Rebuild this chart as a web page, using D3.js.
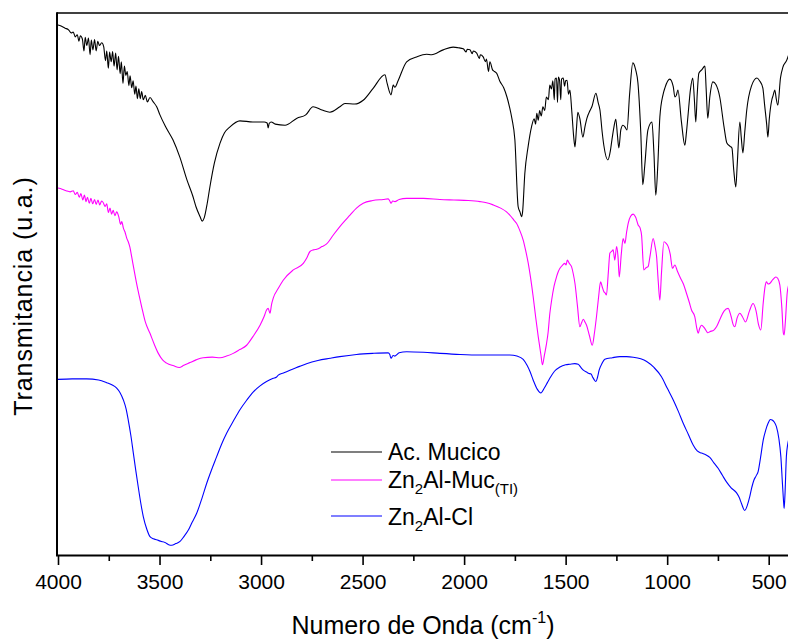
<!DOCTYPE html>
<html>
<head>
<meta charset="utf-8">
<script src="https://cdn.jsdelivr.net/npm/d3@7/dist/d3.min.js"></script>
<style>
  html, body { margin: 0; padding: 0; background: #fff; }
  svg { display: block; }
  svg text { font-family: Arial, "Liberation Sans", Helvetica, sans-serif; }
</style>
</head>
<body>
<svg id="chart" width="788" height="639"></svg>
<script>
// FTIR spectra: [wavenumber (cm-1), transmittance (a.u., offset stacked)]
const acMucico = [
  [4000,97.8],[3985,97.6],[3965,97.2],[3948,96.9],[3935,96.3],[3925,96.5],[3915,95.6],[3905,96.0],
  [3897,94.8],[3890,95.8],[3880,95.2],[3872,93.0],[3866,95.5],[3858,94.0],[3850,95.4],[3842,92.3],
  [3836,95.0],[3828,93.2],[3820,95.1],[3812,93.0],[3804,94.8],[3796,94.0],[3785,94.5],[3775,93.8],
  [3766,91.2],[3760,93.0],[3752,89.8],[3746,92.8],[3738,91.0],[3731,92.9],[3724,90.2],[3716,92.6],
  [3709,89.5],[3702,92.0],[3694,88.8],[3688,91.0],[3680,87.0],[3673,90.2],[3666,88.5],[3659,89.2],
  [3651,86.6],[3645,88.4],[3637,86.2],[3630,87.5],[3622,85.0],[3616,86.5],[3609,84.2],[3602,86.0],
  [3595,84.2],[3588,85.5],[3580,84.0],[3570,84.8],[3560,83.6],[3547,84.4],[3531,83.6],[3514,82.7],
  [3498,81.2],[3470,79.0],[3434,76.6],[3400,73.4],[3365,69.2],[3335,66.1],[3320,64.2],[3300,62.4],
  [3290,61.6],[3280,62.2],[3265,64.9],[3252,67.9],[3230,72.3],[3202,76.0],[3180,77.9],[3153,79.0],
  [3104,80.1],[3040,79.9],[2985,79.9],[2970,79.7],[2965,78.8],[2960,79.6],[2950,79.9],[2930,79.5],
  [2882,79.3],[2823,80.6],[2780,81.2],[2744,82.7],[2700,82.1],[2661,81.7],[2612,82.7],[2587,83.3],
  [2538,83.2],[2497,83.9],[2448,86.1],[2390,88.6],[2379,87.0],[2360,84.9],[2349,86.7],[2341,86.3],
  [2324,87.6],[2283,91.0],[2234,91.9],[2185,92.4],[2160,92.3],[2103,93.2],[2054,93.7],[2030,93.6],
  [2004,93.4],[1990,92.8],[1985,93.3],[1971,93.2],[1960,92.5],[1955,93.0],[1938,92.6],[1925,91.6],
  [1920,92.3],[1906,91.9],[1895,91.0],[1890,91.5],[1880,89.2],[1873,91.0],[1860,89.5],[1850,89.2],
  [1840,88.9],[1824,87.4],[1805,86.2],[1789,84.5],[1776,82.6],[1765,80.6],[1750,76.6],[1734,64.3],
  [1725,63.3],[1717,62.4],[1712,63.3],[1701,70.4],[1685,75.3],[1668,79.0],[1655,80.5],[1648,79.5],
  [1642,81.5],[1635,80.2],[1628,82.0],[1620,81.0],[1612,82.7],[1603,82.0],[1595,84.5],[1585,84.0],
  [1578,86.7],[1570,86.0],[1563,87.5],[1556,84.0],[1552,87.8],[1545,88.0],[1540,83.5],[1536,88.2],
  [1530,87.6],[1524,84.0],[1520,87.8],[1512,88.0],[1505,86.5],[1500,87.5],[1493,87.6],[1486,85.0],
  [1479,85.8],[1470,82.0],[1460,77.0],[1454,75.3],[1447,78.5],[1440,81.7],[1430,80.5],[1415,77.1],
  [1405,79.0],[1395,80.6],[1380,82.0],[1371,82.7],[1351,85.2],[1340,83.5],[1331,82.1],[1320,78.0],
  [1312,75.6],[1292,72.9],[1280,74.5],[1272,76.6],[1262,79.0],[1253,80.4],[1245,77.5],[1238,75.1],
  [1228,78.5],[1218,79.3],[1208,79.0],[1198,78.4],[1185,85.0],[1169,90.8],[1155,89.5],[1144,87.1],
  [1130,78.0],[1120,68.3],[1110,72.0],[1095,78.4],[1075,79.9],[1065,74.0],[1056,66.4],[1046,72.0],
  [1036,80.8],[1020,85.0],[1011,86.2],[987,87.8],[970,86.4],[962,84.5],[955,84.8],[947,85.8],
  [930,80.0],[913,75.6],[905,78.0],[898,80.8],[885,86.0],[874,88.0],[866,84.0],[859,79.9],
  [852,85.0],[844,88.9],[830,89.5],[814,90.2],[808,86.0],[800,80.6],[790,84.5],[775,87.3],
  [760,86.8],[741,84.5],[720,79.0],[706,76.0],[690,75.4],[681,75.1],[672,71.0],[662,67.9],
  [655,72.0],[642,79.9],[635,77.0],[627,74.2],[618,78.0],[608,82.1],[585,86.5],[558,88.0],
  [545,87.5],[529,86.2],[520,83.0],[510,79.5],[504,77.1],[497,80.5],[485,83.9],[478,84.8],
  [470,85.8],[462,84.0],[455,83.0],[442,88.0],[430,90.0],[411,91.3],[400,92.5]
];

const znAlMuc = [
  [4000,67.7],[3980,67.5],[3960,67.2],[3940,67.0],[3925,67.2],[3915,66.5],[3905,66.9],[3895,66.0],
  [3887,66.7],[3878,65.5],[3870,66.4],[3862,65.2],[3855,66.0],[3846,64.9],[3838,65.8],[3829,64.8],
  [3820,65.6],[3812,64.7],[3803,65.5],[3795,64.6],[3785,65.3],[3777,65.0],[3768,64.3],[3760,64.8],
  [3752,63.2],[3744,64.0],[3736,62.9],[3728,63.6],[3720,62.6],[3711,63.3],[3700,62.3],[3692,61.0],
  [3686,61.5],[3678,60.3],[3670,59.6],[3662,58.5],[3654,57.8],[3646,56.8],[3637,55.0],[3625,52.5],
  [3613,50.1],[3600,47.8],[3588,45.8],[3570,43.0],[3547,40.9],[3525,38.8],[3506,37.2],[3485,36.0],
  [3465,35.4],[3430,34.9],[3403,34.6],[3380,35.0],[3350,35.5],[3320,36.0],[3285,36.4],[3240,36.5],
  [3202,36.4],[3170,36.7],[3137,37.2],[3105,37.9],[3071,38.7],[3040,40.3],[3005,42.4],[2985,44.0],
  [2973,45.2],[2965,45.5],[2956,44.6],[2948,46.3],[2940,47.4],[2915,49.2],[2891,50.7],[2841,52.6],
  [2792,53.8],[2775,54.8],[2759,56.0],[2742,56.3],[2726,56.4],[2700,56.9],[2677,57.4],[2645,59.0],
  [2612,60.6],[2562,62.7],[2530,64.0],[2497,64.9],[2450,65.4],[2398,65.6],[2374,65.7],[2366,65.3],
  [2360,64.9],[2352,65.3],[2341,65.2],[2320,65.6],[2283,65.8],[2200,65.8],[2119,65.6],[2050,65.5],
  [1980,65.4],[1922,65.2],[1890,65.0],[1857,64.6],[1820,64.0],[1791,63.3],[1770,62.5],[1755,61.8],
  [1742,61.2],[1725,59.8],[1709,58.1],[1697,56.2],[1684,53.8],[1672,51.0],[1660,47.7],[1648,44.0],
  [1635,40.3],[1622,37.0],[1614,35.1],[1605,36.8],[1595,38.8],[1586,41.2],[1578,44.5],[1569,47.0],
  [1557,49.6],[1545,51.3],[1536,52.3],[1528,52.9],[1515,53.5],[1504,53.8],[1498,53.5],[1492,54.4],
  [1482,53.8],[1471,53.2],[1462,51.8],[1454,50.1],[1442,46.0],[1430,42.1],[1422,42.8],[1413,43.5],
  [1405,43.0],[1397,42.4],[1383,40.5],[1369,38.7],[1358,41.0],[1348,44.0],[1338,47.5],[1328,50.4],
  [1320,49.5],[1312,48.6],[1305,48.3],[1299,48.0],[1290,52.0],[1282,55.7],[1274,56.0],[1266,56.3],
  [1258,54.4],[1249,56.9],[1242,55.0],[1236,51.3],[1226,55.5],[1217,58.4],[1208,57.5],[1200,59.5],
  [1192,61.2],[1180,62.5],[1167,62.9],[1155,62.3],[1143,60.9],[1133,60.3],[1126,59.0],[1115,52.6],
  [1104,53.0],[1094,53.2],[1085,55.0],[1069,58.4],[1060,57.0],[1052,55.0],[1044,50.5],[1036,47.0],
  [1028,52.0],[1016,57.8],[1005,57.5],[995,56.9],[985,55.5],[974,52.9],[962,53.5],[950,52.4],
  [937,51.3],[920,50.0],[905,48.3],[890,46.5],[880,45.2],[864,44.0],[855,42.0],[847,40.9],
  [840,41.8],[831,42.4],[815,41.8],[800,41.0],[790,41.2],[770,41.5],[757,42.1],[740,43.5],
  [720,45.0],[700,45.5],[685,44.0],[675,42.5],[667,42.1],[655,43.8],[642,44.6],[630,44.0],
  [614,43.0],[595,45.0],[577,46.4],[562,45.0],[550,42.5],[539,41.5],[527,46.5],[518,49.5],
  [511,50.4],[503,50.0],[495,50.1],[480,50.8],[465,51.3],[455,51.0],[445,49.8],[435,45.5],
  [428,41.0],[424,40.6],[418,43.0],[409,48.3],[400,50.0]
];

const znAlCl = [
  [4000,32.4],[3930,32.5],[3859,32.5],[3800,32.3],[3760,31.8],[3735,31.4],[3711,30.8],[3695,30.0],
  [3678,28.6],[3665,27.0],[3654,24.9],[3641,22.0],[3629,18.8],[3617,15.6],[3605,12.6],[3592,9.5],
  [3580,7.1],[3563,4.8],[3547,3.4],[3530,3.0],[3514,2.8],[3490,2.5],[3473,2.3],[3455,1.9],
  [3440,1.8],[3420,2.1],[3399,2.5],[3380,3.4],[3358,4.6],[3340,6.0],[3317,7.7],[3290,10.6],
  [3268,13.2],[3245,15.6],[3219,18.1],[3195,20.4],[3169,22.5],[3135,24.8],[3104,26.8],[3070,28.6],
  [3038,30.1],[3005,31.2],[2973,32.0],[2940,32.6],[2925,32.8],[2915,33.2],[2890,33.6],[2858,34.1],
  [2810,34.8],[2776,35.3],[2720,35.9],[2660,36.3],[2612,36.6],[2530,37.0],[2450,37.2],[2374,37.3],
  [2366,37.0],[2360,36.3],[2350,36.8],[2341,36.7],[2320,37.3],[2283,37.5],[2200,37.4],[2119,37.2],
  [2020,37.0],[1922,36.9],[1850,36.9],[1775,36.9],[1740,36.7],[1709,36.1],[1690,35.0],[1675,33.8],
  [1660,32.3],[1640,30.6],[1622,29.9],[1605,30.8],[1590,31.8],[1578,32.6],[1555,33.9],[1528,34.7],
  [1500,35.1],[1479,35.2],[1455,35.3],[1438,35.2],[1425,34.6],[1413,34.1],[1395,33.7],[1385,33.5],
  [1375,33.4],[1368,32.9],[1357,32.2],[1351,32.0],[1343,32.8],[1335,34.1],[1320,35.4],[1307,36.1],
  [1270,36.4],[1233,36.6],[1200,36.6],[1167,36.5],[1130,36.2],[1101,35.7],[1065,34.6],[1028,32.9],
  [1000,30.8],[970,28.6],[945,26.5],[921,24.3],[895,22.2],[872,20.3],[852,19.2],[831,18.8],
  [810,18.5],[790,18.0],[770,17.0],[749,16.0],[728,14.7],[708,13.5],[685,12.4],[659,11.5],
  [645,10.6],[634,9.5],[618,8.2],[605,9.2],[593,10.8],[583,12.5],[573,13.8],[562,14.6],
  [552,15.4],[540,18.0],[527,21.2],[515,23.0],[503,24.3],[492,25.0],[483,24.9],[472,24.5],
  [462,23.7],[450,21.5],[440,18.1],[432,13.0],[426,9.5],[424,8.6],[420,11.0],[413,18.1],
  [406,20.5],[400,21.5]
];

const majorTicks = [4000, 3500, 3000, 2500, 2000, 1500, 1000, 500];
const minorTicks = [3750, 3250, 2750, 2250, 1750, 1250, 750];

const series = [
  { name: "acMucico", data: acMucico, color: "#000000" },
  { name: "znAlMuc", data: znAlMuc, color: "#ff00ff" },
  { name: "znAlCl",  data: znAlCl,  color: "#0000ff" }
];

const svg = d3.select("#chart");
const plotLeft = 58, plotRight = 789, plotTop = 13, plotBottom = 555;

const x = d3.scaleLinear().domain([4000, 400]).range([plotLeft, plotRight]);
const y = d3.scaleLinear().domain([0, 100]).range([plotBottom, plotTop]);

// spectra
const line = d3.line()
  .x(d => x(d[0]))
  .y(d => y(d[1]))
  .curve(d3.curveMonotoneX);

const plot = svg.append("g");
series.forEach(s => {
  plot.append("path")
    .datum(s.data)
    .attr("fill", "none")
    .attr("stroke", s.color)
    .attr("stroke-width", 1.1)
    .attr("stroke-linejoin", "round")
    .attr("d", line);
});

// frame: top border and left axis line
svg.append("line")
  .attr("x1", plotLeft - 1).attr("x2", 800)
  .attr("y1", plotTop).attr("y2", plotTop)
  .attr("stroke", "#000").attr("stroke-width", 1.6);
svg.append("line")
  .attr("x1", plotLeft - 1).attr("x2", plotLeft - 1)
  .attr("y1", plotTop - 0.8).attr("y2", plotBottom)
  .attr("stroke", "#000").attr("stroke-width", 2);

// bottom axis with major and minor ticks
const xAxis = d3.axisBottom(x)
  .tickValues(majorTicks)
  .tickSize(10)
  .tickSizeOuter(0)
  .tickPadding(9)
  .tickFormat(d3.format("d"));

const gx = svg.append("g")
  .attr("transform", `translate(0,${plotBottom})`)
  .call(xAxis)
  .attr("font-family", null)
  .attr("font-size", 21);
gx.select(".domain").attr("stroke-width", 2).attr("d", `M${plotLeft - 2},0.5H800`);
gx.selectAll(".tick line").attr("stroke-width", 1.6);
gx.selectAll(".tick text").attr("fill", "#000");

const gxMinor = svg.append("g")
  .attr("transform", `translate(0,${plotBottom})`)
  .call(d3.axisBottom(x).tickValues(minorTicks).tickSize(6).tickFormat(""));
gxMinor.select(".domain").remove();
gxMinor.selectAll(".tick line").attr("stroke-width", 1.6);

// axis titles
const xt = svg.append("text")
  .attr("x", 423).attr("y", 634)
  .attr("text-anchor", "middle")
  .attr("font-size", 25)
  .attr("fill", "#000");
xt.append("tspan").text("Numero de Onda (cm");
xt.append("tspan").attr("font-size", 16).attr("dy", -11).text("-1");
xt.append("tspan").attr("dy", 11).text(")");

svg.append("text")
  .attr("transform", "translate(32,296) rotate(-90)")
  .attr("text-anchor", "middle")
  .attr("font-size", 25)
  .attr("letter-spacing", 0.9)
  .attr("fill", "#000")
  .text("Transmitancia (u.a.)");

// legend
const legendRows = [
  { color: "#000000", ly: 452, ty: 460, parts: [["Ac. Mucico", 0]] },
  { color: "#ff00ff", ly: 480, ty: 488, parts: [["Zn", 0], ["2", 1], ["Al-Muc", 0], ["(TI)", 1]] },
  { color: "#0000ff", ly: 516, ty: 525, parts: [["Zn", 0], ["2", 1], ["Al-Cl", 0]] }
];
const legend = svg.append("g");
legendRows.forEach(r => {
  legend.append("line")
    .attr("x1", 331).attr("x2", 382)
    .attr("y1", r.ly).attr("y2", r.ly)
    .attr("stroke", r.color).attr("stroke-width", 1.1);
  const t = legend.append("text")
    .attr("x", 388).attr("y", r.ty)
    .attr("font-size", 23)
    .attr("fill", "#000");
  let sub = false;
  r.parts.forEach(([txt, isSub]) => {
    const ts = t.append("tspan").text(txt);
    if (isSub && !sub) { ts.attr("font-size", 15).attr("dy", 6); sub = true; }
    else if (!isSub && sub) { ts.attr("dy", -6); sub = false; }
    else if (isSub) { ts.attr("font-size", 15); }
  });
});
</script>
</body>
</html>
